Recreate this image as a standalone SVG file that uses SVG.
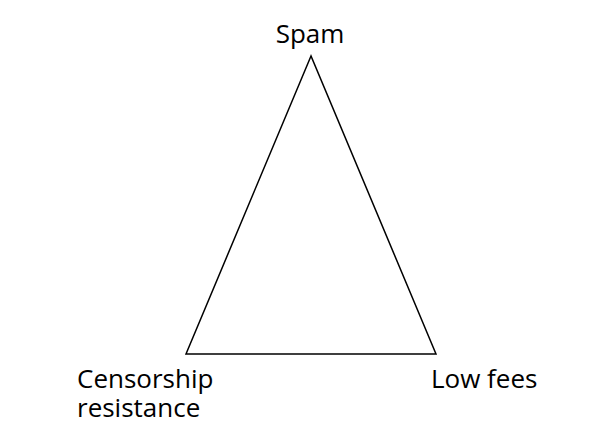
<svg xmlns="http://www.w3.org/2000/svg" width="600" height="422" viewBox="0 0 600 422">
<style>
.lbl{font-family:"Open Sans","Noto Sans",sans-serif;font-size:26px;fill:#000}
.edge{fill:none;stroke:#000;stroke-width:1.5}
</style>
<rect width="600" height="422" fill="#fff"/>
<g id="connectors">
<polygon class="edge" points="311,56 186,354 436,354"/>
</g>
<g id="spam"><text class="lbl" x="310" y="43" text-anchor="middle">Spam</text></g>
<g id="censorship"><text class="lbl" x="77" y="388">Censorship</text><text class="lbl" x="77" y="417">resistance</text></g>
<g id="lowfees"><text class="lbl" x="431" y="388">Low fees</text></g>
</svg>
